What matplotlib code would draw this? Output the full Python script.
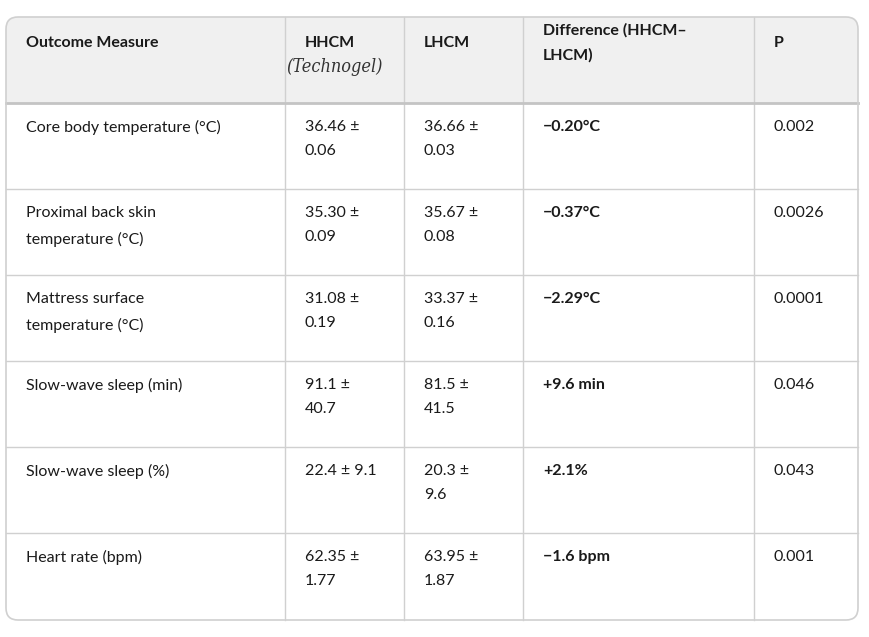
import matplotlib.pyplot as plt
from matplotlib.patches import FancyBboxPatch, Rectangle

plt.rcParams['font.family'] = ['Lato', 'DejaVu Sans']

headers = ["Outcome Measure", "HHCM", "LHCM", "Difference (HHCM\u2013\nLHCM)", "P"]
measures = ["Core body temperature (\u00b0C)", "Proximal back skin\ntemperature (\u00b0C)",
            "Mattress surface\ntemperature (\u00b0C)", "Slow-wave sleep (min)",
            "Slow-wave sleep (%)", "Heart rate (bpm)"]
hhcm = ["36.46 \u00b1\n0.06", "35.30 \u00b1\n0.09", "31.08 \u00b1\n0.19", "91.1 \u00b1\n40.7",
        "22.4 \u00b1 9.1", "62.35 \u00b1\n1.77"]
lhcm = ["36.66 \u00b1\n0.03", "35.67 \u00b1\n0.08", "33.37 \u00b1\n0.16", "81.5 \u00b1\n41.5",
        "20.3 \u00b1\n9.6", "63.95 \u00b1\n1.87"]
diff = ["\u22120.20\u00b0C", "\u22120.37\u00b0C", "\u22122.29\u00b0C", "+9.6 min", "+2.1%", "\u22121.6 bpm"]
pvals = ["0.002", "0.0026", "0.0001", "0.046", "0.043", "0.001"]

W, H = 870, 637
fig = plt.figure(figsize=(W / 100, H / 100), dpi=100)
ax = fig.add_axes([0, 0, 1, 1])
ax.set_xlim(0, W)
ax.set_ylim(H, 0)
ax.axis("off")

left, right, top, bottom = 6, 858, 17, 620
col_x = [left, 285, 404, 523, 754, right]
row_y = [top, 103, 189, 275, 361, 447, 533, bottom]
line_c = "#d0d0d0"
txt_c = "#1a1a1a"

# header background
ax.add_patch(FancyBboxPatch((left, top), right - left, row_y[1] - top,
                            boxstyle="round,pad=0,rounding_size=12",
                            fc="#f0f0f0", ec="none", zorder=1))
ax.add_patch(Rectangle((left, top + 14), right - left, row_y[1] - top - 14,
                       fc="#f0f0f0", ec="none", zorder=1))
# outer box
ax.add_patch(FancyBboxPatch((left, top), right - left, bottom - top,
                            boxstyle="round,pad=0,rounding_size=12",
                            fc="none", ec=line_c, lw=1.2, zorder=3))
for x in col_x[1:-1]:
    ax.plot([x, x], [top, bottom], color=line_c, lw=1, zorder=2)
for i, y in enumerate(row_y[1:-1]):
    ax.plot([left, right], [y, y], color="#c4c4c4" if i == 0 else line_c,
            lw=2 if i == 0 else 1, zorder=2)

pad = 20
fs = 11.5
for j, h in enumerate(headers):
    ax.text(col_x[j] + pad, top + 26, h, fontsize=fs, fontweight="bold",
            color=txt_c, va="center", ha="left", linespacing=1.95)
ax.text(col_x[1] + 1, top + 50, "(Technogel)", fontsize=13, style="italic",
        family="DejaVu Serif", color="#333333", va="center", ha="left",
        stretch="condensed")

cols = [measures, hhcm, lhcm, diff, pvals]
for i in range(len(measures)):
    y0 = row_y[i + 1] + 17
    for j, col in enumerate(cols):
        ax.text(col_x[j] + pad, y0, col[i], fontsize=fs, color=txt_c, va="top",
                ha="left", linespacing=1.95,
                fontweight="bold" if j == 3 else "normal")

fig.savefig("out.png", dpi=100, facecolor="white")
